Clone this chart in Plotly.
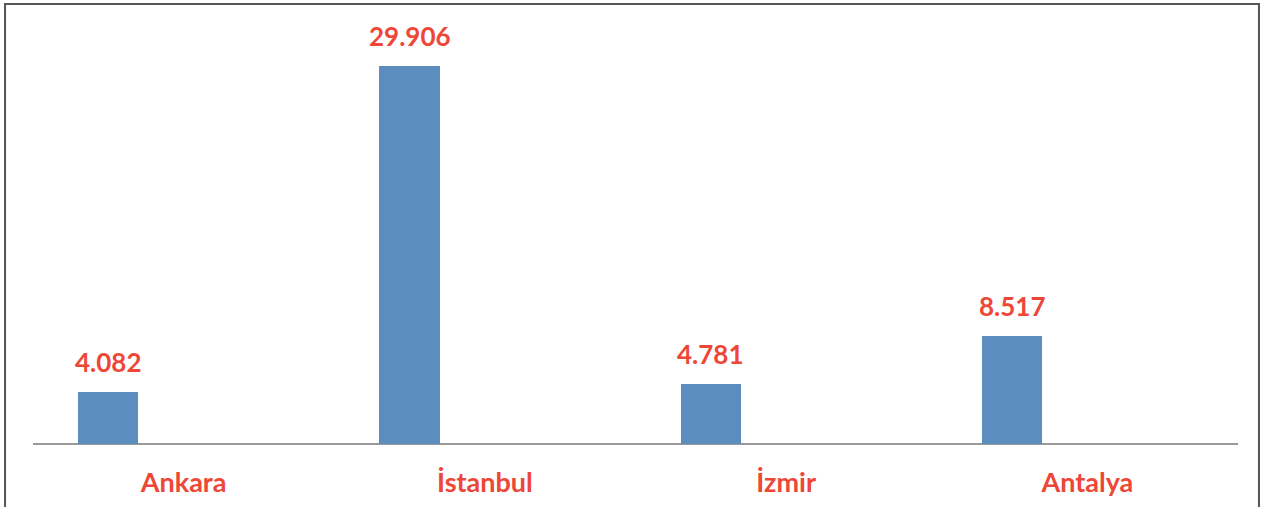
import plotly.graph_objects as go

cities = ["Ankara", "İstanbul", "İzmir", "Antalya"]
values = [4.082, 29.906, 4.781, 8.517]
labels = ["4.082", "29.906", "4.781", "8.517"]

bar_color = "#5B8DBE"
red = "#EE4637"
font_family = "Lato, 'Open Sans', sans-serif"

xs = list(range(len(cities)))

fig = go.Figure()
fig.add_trace(go.Bar(
    x=xs, y=values, width=0.2, offset=-0.35,
    marker=dict(color=bar_color, line=dict(width=0)),
    hoverinfo="skip", showlegend=False,
))

for i, (v, t) in enumerate(zip(values, labels)):
    fig.add_annotation(
        x=i - 0.25, y=v, text=t, showarrow=False,
        yanchor="bottom", yshift=12,
        font=dict(family=font_family, size=26, color=red, weight="bold"),
    )

fig.update_layout(
    width=1263, height=507,
    margin=dict(l=33, r=25, t=5, b=63),
    paper_bgcolor="white", plot_bgcolor="white",
    bargap=0,
    xaxis=dict(
        range=[-0.5, 3.5], tickvals=xs, ticktext=cities,
        showgrid=False, zeroline=False, showline=False,
        ticks="", ticklabelstandoff=20,
        tickfont=dict(family=font_family, size=27, color=red, weight="bold"),
    ),
    yaxis=dict(
        range=[0, 34.73], showgrid=False, zeroline=True,
        zerolinecolor="#9A9A9A", zerolinewidth=2,
        showticklabels=False, ticks="", showline=False,
    ),
    shapes=[dict(
        type="rect", xref="paper", yref="paper",
        x0=-0.0232, x1=1.0174, y0=-0.3, y1=1.0023,
        line=dict(color="#555555", width=2), fillcolor="rgba(0,0,0,0)",
        layer="above",
    )],
)

fig.write_html("out.html")
